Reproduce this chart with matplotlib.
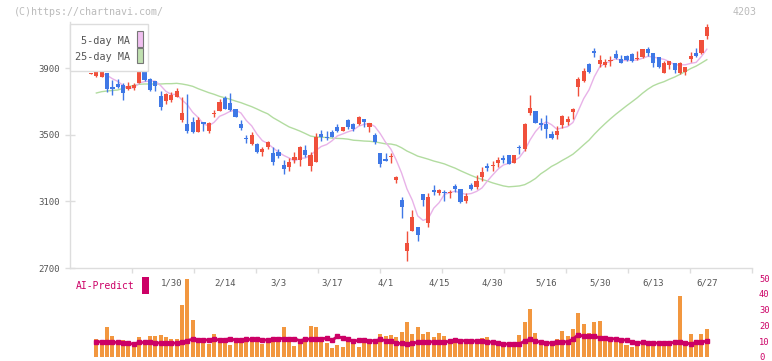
import numpy as np
import pandas as pd
import matplotlib
matplotlib.use("Agg")
import matplotlib.pyplot as plt
from matplotlib.patches import Rectangle
import matplotlib.transforms as mtransforms

# ---------------- data ----------------
opens = [3868, 3852, 3848, 3870, 3788, 3804, 3798, 3776, 3782, 3812,
         3882, 3832, 3822, 3732, 3704, 3708, 3728, 3588, 3564, 3576,
         3518, 3574, 3524, 3622, 3644, 3722, 3688, 3654, 3562, 3478,
         3444, 3444, 3398, 3424, 3388, 3396, 3318, 3308, 3348, 3348,
         3406, 3312, 3338, 3504, 3488, 3516, 3544, 3524, 3588, 3564,
         3564, 3592, 3544, 3498, 3392, 3354, 3364, 3228, 3108, 2804,
         2924, 2944, 3144, 2968, 3168, 3152, 3158, 3152, 3192, 3172,
         3104, 3198, 3184, 3244, 3312, 3312, 3328, 3358, 3378, 3332,
         3428, 3412, 3632, 3644, 3568, 3564, 3504, 3498, 3558, 3578,
         3638, 3788, 3824, 3924, 4000, 3924, 3916, 3942, 3984, 3956,
         3972, 3984, 3952, 3964, 4012, 3992, 3964, 3872, 3918, 3932,
         3872, 3878, 3954, 3992, 3988, 4092]
highs = [3870, 3896, 3904, 3870, 3828, 3836, 3812, 3816, 3808, 3920,
         3896, 3838, 3824, 3762, 3748, 3756, 3780, 3728, 3744, 3604,
         3604, 3576, 3576, 3648, 3714, 3732, 3752, 3654, 3588, 3496,
         3516, 3448, 3424, 3464, 3424, 3412, 3348, 3358, 3396, 3432,
         3438, 3398, 3508, 3528, 3520, 3528, 3564, 3544, 3596, 3572,
         3612, 3592, 3572, 3508, 3392, 3388, 3392, 3252, 3128, 2924,
         3048, 2948, 3144, 3148, 3198, 3176, 3168, 3168, 3204, 3172,
         3152, 3212, 3256, 3308, 3328, 3344, 3368, 3378, 3378, 3378,
         3438, 3572, 3738, 3644, 3598, 3618, 3524, 3552, 3618, 3612,
         3660, 3848, 3898, 3932, 4020, 3978, 3952, 3972, 4008, 3976,
         3976, 3988, 4004, 4016, 4024, 3992, 3968, 3944, 3944, 3932,
         3938, 3904, 3996, 4020, 4068, 4164]
lows = [3866, 3844, 3844, 3758, 3740, 3778, 3708, 3768, 3770, 3808,
        3824, 3764, 3764, 3648, 3684, 3696, 3724, 3578, 3508, 3508,
        3518, 3522, 3508, 3608, 3640, 3652, 3644, 3608, 3528, 3452,
        3436, 3388, 3372, 3416, 3318, 3360, 3264, 3284, 3328, 3312,
        3368, 3284, 3338, 3464, 3468, 3484, 3516, 3524, 3532, 3524,
        3556, 3548, 3518, 3444, 3304, 3344, 3332, 3208, 3002, 2744,
        2924, 2864, 3072, 2944, 3138, 3138, 3104, 3118, 3158, 3092,
        3092, 3168, 3176, 3224, 3280, 3284, 3304, 3332, 3324, 3328,
        3384, 3400, 3618, 3572, 3528, 3478, 3472, 3474, 3538, 3556,
        3596, 3732, 3818, 3868, 3964, 3908, 3904, 3912, 3952, 3928,
        3940, 3936, 3948, 3958, 3972, 3904, 3898, 3868, 3892, 3868,
        3864, 3860, 3938, 3964, 3984, 4072]
closes = [3868, 3876, 3882, 3776, 3776, 3788, 3752, 3792, 3800, 3920,
          3828, 3768, 3792, 3666, 3744, 3740, 3762, 3628, 3522, 3518,
          3588, 3564, 3572, 3630, 3696, 3656, 3648, 3608, 3542, 3472,
          3496, 3396, 3414, 3458, 3338, 3372, 3294, 3338, 3366, 3424,
          3376, 3378, 3484, 3484, 3482, 3488, 3524, 3544, 3548, 3536,
          3604, 3578, 3572, 3456, 3324, 3344, 3370, 3244, 3068, 2848,
          3004, 2900, 3108, 3128, 3154, 3168, 3152, 3158, 3174, 3096,
          3132, 3174, 3222, 3276, 3300, 3318, 3348, 3348, 3324, 3378,
          3418, 3564, 3660, 3572, 3558, 3532, 3478, 3524, 3612, 3596,
          3656, 3832, 3884, 3876, 3992, 3948, 3938, 3948, 3958, 3932,
          3948, 3944, 3958, 4012, 3988, 3928, 3904, 3928, 3944, 3888,
          3932, 3904, 3972, 3972, 4068, 4148]

# moving-average values before enough history exists
ma5_head = [np.nan, np.nan, 3866, 3856]
ma25_head = [np.nan, 3750, 3758, 3762, 3765, 3768, 3778, 3788, 3796, 3802,
             3804, 3804, 3804, 3804, 3806, 3806, 3808, 3804, 3798, 3790,
             3776, 3764, 3752, 3742]

volume = [np.nan, 11.3, 9.2, 18.8, 13.2, 10.2, 10.7, 9.2, 6.5, 12.5,
          9.6, 13.2, 13.2, 13.8, 12.5, 11.3, 11.3, 32.6, 49.6, 23.2,
          11.7, 10.7, 8.2, 14.4, 11.3, 9.6, 7.5, 9.6, 11.7, 11.7,
          11.9, 12.3, 8.2, 9.2, 11.7, 12.9, 18.8, 12.5, 6.9, 11.7,
          12.9, 19.4, 18.8, 9.2, 8.8, 5.9, 7.5, 6.5, 10.7, 9.2,
          6.3, 11.7, 10.2, 10.2, 14.4, 13.4, 13.8, 12.5, 15.9, 22.2,
          14.8, 19.0, 14.4, 15.7, 12.7, 15.1, 13.4, 11.0, 12.3, 9.2,
          10.2, 9.2, 8.8, 12.1, 12.9, 8.4, 7.5, 8.0, 8.0, 7.5,
          13.8, 22.2, 30.4, 15.1, 9.2, 9.6, 10.2, 11.3, 16.5, 13.4,
          17.6, 27.6, 20.7, 15.1, 22.2, 22.8, 11.7, 11.3, 10.2, 10.2,
          7.5, 6.5, 7.5, 9.6, 10.2, 9.2, 9.2, 8.2, 8.2, 8.8,
          38.5, 8.2, 14.4, 7.5, 14.4, 17.6]

ai_predict = [np.nan, 9.6, 9.6, 9.6, 9.4, 9.2, 9.0, 8.6, 8.2, 9.2,
              9.2, 9.2, 9.0, 8.8, 8.8, 8.8, 8.8, 9.2, 10.4, 11.3,
              10.8, 10.6, 10.9, 11.1, 10.9, 10.9, 11.7, 10.6, 10.9, 11.1,
              11.1, 11.1, 11.0, 10.6, 11.2, 11.7, 11.7, 11.7, 11.7, 10.2,
              11.3, 11.3, 11.3, 11.5, 11.9, 10.5, 13.0, 12.0, 11.2, 10.0,
              10.6, 10.6, 10.4, 10.2, 11.1, 10.4, 10.2, 8.6, 8.6, 8.4,
              8.6, 9.4, 9.4, 9.6, 9.6, 9.6, 9.4, 10.0, 10.6, 10.4,
              10.2, 10.2, 10.0, 10.0, 9.8, 9.2, 8.8, 8.4, 8.0, 8.0,
              8.2, 10.2, 11.1, 10.0, 9.4, 8.6, 9.0, 9.6, 9.6, 9.6,
              11.3, 14.2, 13.0, 13.2, 13.4, 11.9, 11.8, 11.7, 11.4, 11.0,
              10.6, 9.6, 8.8, 9.2, 9.0, 8.8, 8.8, 8.8, 9.0, 9.2,
              9.2, 9.0, 8.2, 9.2, 9.6, 10.0]

date_labels = ['1/30', '2/14', '3/3', '3/17', '4/1', '4/15', '4/30',
               '5/16', '5/30', '6/13', '6/27']
date_label_idx = [15, 25, 35, 45, 55, 65, 75, 85, 95, 105, 115]
price_ticks = [2700, 3100, 3500, 3900]
vol_ticks = [0, 10, 20, 30, 40, 50]

# ---------------- styling ----------------
RED = '#F0503C'
BLUE = '#3F78E6'
ORANGE = '#F2973F'
CRIMSON = '#CC0066'
PINK = '#E8B2E8'
GREEN = '#B2DCA0'
AXC = '#DDDDDD'
TXT = '#555555'
FONT = 'DejaVu Sans Mono'
plt.rcParams['font.family'] = [FONT]

W, H = 772, 361
fig = plt.figure(figsize=(W / 100, H / 100), dpi=100)


def fx(px):
    return px / W


def fy(py):
    return 1 - py / H


x_left_px, x_right_px = 70, 752
first_px, step_px = 91, 5.355
xlim = ((x_left_px - first_px) / step_px, (x_right_px - first_px) / step_px)

ax = fig.add_axes([fx(70), fy(268), fx(682), (268 - 22) / H])
axv = fig.add_axes([fx(70), fy(357), fx(682), (357 - 278) / H])

n = len(closes)
idx = np.arange(n)
o = np.array(opens, float)
h = np.array(highs, float)
l = np.array(lows, float)
c = np.array(closes, float)

# candles
colors = [RED if c[i] >= o[i] else BLUE for i in range(n)]
ax.vlines(idx, l, h, colors=colors, lw=1.0, zorder=3)
body_bottom = np.minimum(o, c)
body_h = np.abs(c - o)
min_h = 5.0
adj_bottom = np.where(body_h < min_h, (o + c) / 2 - min_h / 2, body_bottom)
adj_h = np.maximum(body_h, min_h)
ax.bar(idx, adj_h, bottom=adj_bottom, width=0.78, color=colors,
       linewidth=0, zorder=4)

# moving averages
cs = pd.Series(c)
ma5 = cs.rolling(5).mean().to_numpy()
ma5[:len(ma5_head)] = ma5_head
ma25 = cs.rolling(25).mean().to_numpy()
ma25[:len(ma25_head)] = ma25_head
ax.plot(idx, ma25, color=GREEN, lw=1.0, zorder=2)
ax.plot(idx, ma5, color=PINK, lw=1.0, zorder=2)

ax.set_xlim(*xlim)
ax.set_ylim(2700, 4176)
for s in ['top', 'right']:
    ax.spines[s].set_visible(False)
for s in ['left', 'bottom']:
    ax.spines[s].set_color(AXC)
    ax.spines[s].set_linewidth(1.0)
ax.set_yticks(price_ticks)
ax.set_yticklabels([str(t) for t in price_ticks])
ax.tick_params(axis='y', direction='inout', length=7, width=1, color=AXC,
               labelsize=6.5, labelcolor=TXT, pad=4)
# fixed-spacing x ticks (11 equal segments of the axis)
xt = [xlim[0] + k * (xlim[1] - xlim[0]) / 11 for k in range(1, 12)]
ax.set_xticks(xt)
ax.set_xticklabels([])
ax.tick_params(axis='x', direction='out', length=3.6, width=1, color=AXC)
ax.patch.set_alpha(0)

# legend box
leg = Rectangle((fx(70), fy(71)), fx(78), (71 - 24) / H, transform=fig.transFigure,
                facecolor='white', edgecolor=AXC, lw=1.0, zorder=10)
fig.patches.append(leg)
fig.text(fx(130), fy(40.5), '5-day MA', ha='right', va='center', fontsize=7.3,
         color=TXT, zorder=11)
fig.text(fx(130), fy(57), '25-day MA', ha='right', va='center', fontsize=7.3,
         color=TXT, zorder=11)
fig.patches.append(Rectangle((fx(136.5), fy(46.5)), fx(6), 15 / H, transform=fig.transFigure,
                             facecolor='#F0C0F0', edgecolor='#777777', lw=0.8, zorder=11))
fig.patches.append(Rectangle((fx(136.5), fy(63)), fx(6), 15 / H, transform=fig.transFigure,
                             facecolor='#C0E0B0', edgecolor='#777777', lw=0.8, zorder=11))

# header texts
fig.text(fx(14), fy(12), '(C)https://chartnavi.com/', ha='left', va='center',
         fontsize=7.2, color='#BBBBBB')
fig.text(fx(757), fy(12), '4203', ha='right', va='center', fontsize=7.2,
         color='#BBBBBB')

# volume / AI predict panel
vol = np.array(volume, float)
axv.bar(idx, vol, width=0.75, color=ORANGE, linewidth=0, zorder=2)
axv.plot(idx, ai_predict, color=CRIMSON, lw=2.0, marker='s', ms=2.2,
         zorder=3)
axv.set_xlim(*xlim)
axv.set_ylim(0, 50)
for s in axv.spines.values():
    s.set_visible(False)
axv.set_xticks([])
axv.yaxis.tick_right()
axv.set_yticks(vol_ticks)
axv.set_yticklabels([str(t) for t in vol_ticks])
axv.tick_params(axis='y', length=0, labelsize=6.3, labelcolor=CRIMSON, pad=5)
axv.patch.set_alpha(0)

# date labels
blend = mtransforms.blended_transform_factory(axv.transData, fig.transFigure)
for lab, i in zip(date_labels, date_label_idx):
    axv.text(i, fy(283), lab, transform=blend, ha='center', va='center',
             fontsize=6.5, color=TXT)

fig.text(fx(76), fy(286), 'AI-Predict', ha='left', va='center', fontsize=7,
         color=CRIMSON)
fig.patches.append(Rectangle((fx(142), fy(293.5)), fx(6.5), 16.5 / H,
                             transform=fig.transFigure, facecolor=CRIMSON,
                             edgecolor='none'))

fig.savefig('out.png', dpi=100)
